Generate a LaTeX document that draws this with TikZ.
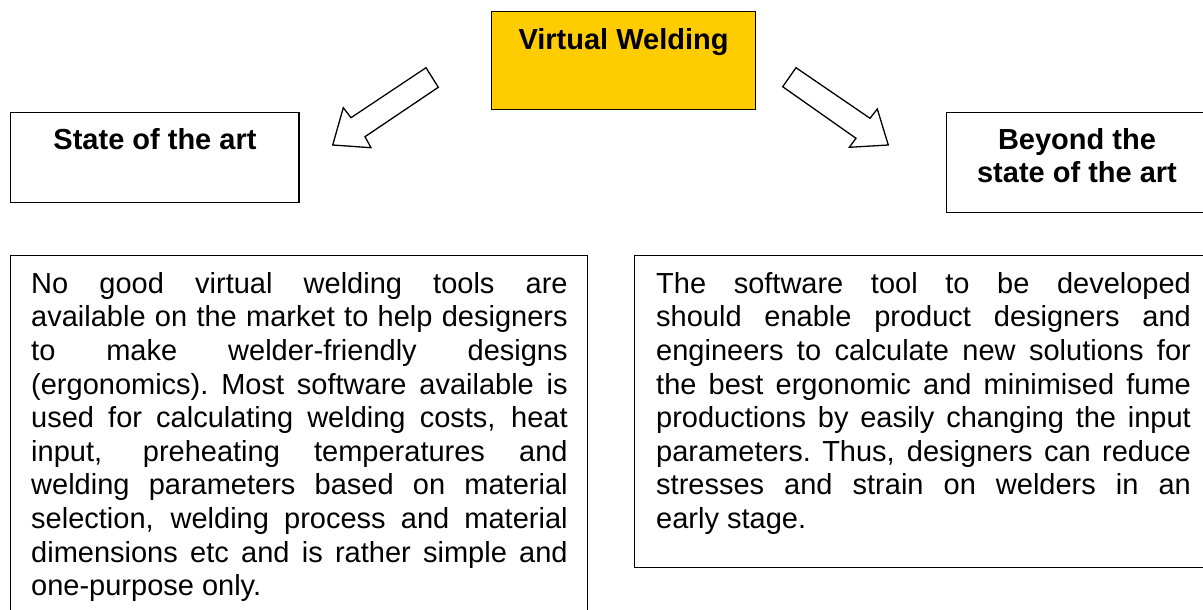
\documentclass[tikz,border=0pt]{standalone}
\usepackage{fontspec}
\setmainfont{Liberation Sans}
\definecolor{vwyellow}{HTML}{FFCC00}
\newcommand{\bodyset}{\fontsize{29}{33.6}\selectfont\spaceskip=\fontdimen2\font plus 1fil\xspaceskip=\fontdimen2\font plus 1fil\parfillskip=0pt plus 1fill\parindent=0pt\hyphenpenalty=10000\exhyphenpenalty=10000}
\begin{document}
\begin{tikzpicture}[x=1pt,y=-1pt,
  boxframe/.style={draw=black, line width=1.3pt, rectangle, inner sep=0pt, anchor=north west},
  headtext/.style={font=\fontsize{29}{32.5}\selectfont\bfseries, inner sep=0pt, anchor=base, align=center},
  bodytext/.style={inner sep=0pt, anchor=base west},
  blockarrow/.style={draw=black, fill=white, line width=1.3pt, line join=miter}
]
\useasboundingbox (0,0) rectangle (1203,610);
\clip (0,0) rectangle (1203,610);

% boxes
\node[boxframe, fill=vwyellow, minimum width=264pt, minimum height=98pt] (vw) at (491,10.7) {};
\node[boxframe, minimum width=288.3pt, minimum height=90pt] (soa) at (10,111.7) {};
\node[boxframe, minimum width=270pt, minimum height=100pt] (bsoa) at (946,112) {};
\node[boxframe, minimum width=577pt, minimum height=380pt] (ltext) at (10,255) {};
\node[boxframe, minimum width=580pt, minimum height=312pt] (rtext) at (634,255) {};

% headings
\node[headtext] (vwt) at (623.5,49.3) {Virtual Welding};
\node[headtext] (soat) at (155,149) {State of the art};
\node[headtext] (bsoat1) at (1077,149) {Beyond the};
\node[headtext] (bsoat2) at (1077,182) {state of the art};

% block arrows
\coordinate (la1) at (426,67.7);
\coordinate (la2) at (438.3,87.3);
\coordinate (la3) at (365,136.7);
\coordinate (la4) at (371,147.7);
\coordinate (la5) at (332.7,145);
\coordinate (la6) at (343.3,107.7);
\coordinate (la7) at (351,117.7);
\draw[blockarrow] (la1) -- (la2) -- (la3) -- (la4) -- (la5) -- (la6) -- (la7) -- cycle;

\coordinate (ra1) at (796,67.7);
\coordinate (ra2) at (782.7,86.7);
\coordinate (ra3) at (856,138.3);
\coordinate (ra4) at (849.3,147.3);
\coordinate (ra5) at (888.3,145);
\coordinate (ra6) at (877.3,109);
\coordinate (ra7) at (870,118.3);
\draw[blockarrow] (ra1) -- (ra2) -- (ra3) -- (ra4) -- (ra5) -- (ra6) -- (ra7) -- cycle;

% body texts
\node[bodytext] (lbody) at (31,293.3) {\parbox[t]{536.5pt}{\bodyset
No good virtual welding tools are\linebreak
available on the market to help designers\linebreak
to make welder-friendly designs\linebreak
(ergonomics). Most software available is\linebreak
used for calculating welding costs, heat\linebreak
input, preheating temperatures and\linebreak
welding parameters based on material\linebreak
selection, welding process and material\linebreak
dimensions etc and is rather simple and\linebreak
one-purpose only.\par}};

\node[bodytext] (rbody) at (656,293.3) {\parbox[t]{534.7pt}{\bodyset
The software tool to be developed\linebreak
should enable product designers and\linebreak
engineers to calculate new solutions for\linebreak
the best ergonomic and minimised fume\linebreak
productions by easily changing the input\linebreak
parameters. Thus, designers can reduce\linebreak
stresses and strain on welders in an\linebreak
early stage.\par}};
\end{tikzpicture}
\end{document}
